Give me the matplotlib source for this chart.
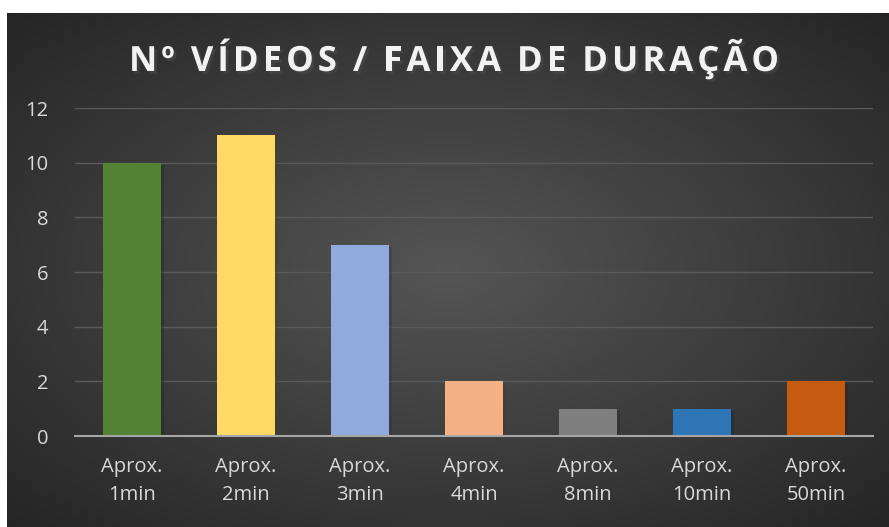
import numpy as np
import matplotlib.pyplot as plt
import matplotlib.patheffects as pe

categories = ["Aprox.\n1min", "Aprox.\n2min", "Aprox.\n3min", "Aprox.\n4min",
              "Aprox.\n8min", "Aprox.\n10min", "Aprox.\n50min"]
values = [10, 11, 7, 2, 1, 1, 2]
colors = ["#548235", "#FFD966", "#8FAADC", "#F4B183", "#7F7F7F", "#2E75B6", "#C55A11"]
yticks = [0, 2, 4, 6, 8, 10, 12]
title = "Nº VÍDEOS / FAIXA DE DURAÇÃO"

plt.rcParams['font.family'] = ['Open Sans', 'DejaVu Sans']

fig = plt.figure(figsize=(8.89, 5.27), dpi=100)
fig.patch.set_facecolor('white')

# radial gradient background
bg = fig.add_axes([7 / 889, 0, 1 - 7 / 889, 1 - 13 / 527])
bg.set_axis_off()
yy, xx = np.mgrid[0:1:300j, 0:1:500j]
r = np.sqrt(((xx - 0.5) / 0.75) ** 2 + ((yy - 0.5) / 0.75) ** 2)
r = np.clip(r / 0.95, 0, 1)
shade = 0x55 / 255 * (1 - r) + 0x25 / 255 * r
bg.imshow(np.dstack([shade] * 3), aspect='auto', extent=[0, 1, 0, 1])

ax = fig.add_axes([75 / 889, 91 / 527, 798 / 889, 328 / 527])
ax.patch.set_alpha(0)
x = np.arange(len(categories))
bars = ax.bar(x, values, width=0.51, color=colors, zorder=3)
for b in bars:
    b.set_path_effects([pe.SimplePatchShadow(offset=(2, -2), alpha=0.35), pe.Normal()])

ax.set_xlim(-0.5, len(categories) - 0.5)
ax.set_ylim(0, 12)
ax.set_yticks(yticks)
ax.set_xticks(x)
ax.set_xticklabels(categories, fontsize=14.5, color='#D9D9D9', linespacing=1.55)
ax.tick_params(axis='y', labelsize=14.5, labelcolor='#D9D9D9', length=0, pad=19)
ax.tick_params(axis='x', length=0, pad=15)
ax.grid(axis='y', color='#5A5A5A', linewidth=1, zorder=0)
for s in ['top', 'right', 'left']:
    ax.spines[s].set_visible(False)
ax.spines['bottom'].set_color('#A6A6A6')
ax.spines['bottom'].set_linewidth(1.5)
ax.spines['bottom'].set_zorder(4)

# title with letter spacing: place characters one by one
renderer = fig.canvas.get_renderer()
spacing = 4.0  # extra px between letters
shadow = [pe.withSimplePatchShadow(offset=(2, -2), alpha=0.6)]
pieces = []
for ch in title:
    t = fig.text(0, 1 - 62 / 527, ch, ha='left', va='center', fontsize=25,
                 fontweight='bold', color='#F2F2F2', path_effects=shadow)
    pieces.append(t)
widths = []
for t in pieces:
    w = t.get_window_extent(renderer).width
    if t.get_text() == ' ':
        w = 8.0
    widths.append(w)
total = sum(widths) + spacing * (len(pieces) - 1)
xpos = 454 - total / 2
for t, w in zip(pieces, widths):
    t.set_x(xpos / 889)
    xpos += w + spacing

fig.savefig('out.png', dpi=100)
